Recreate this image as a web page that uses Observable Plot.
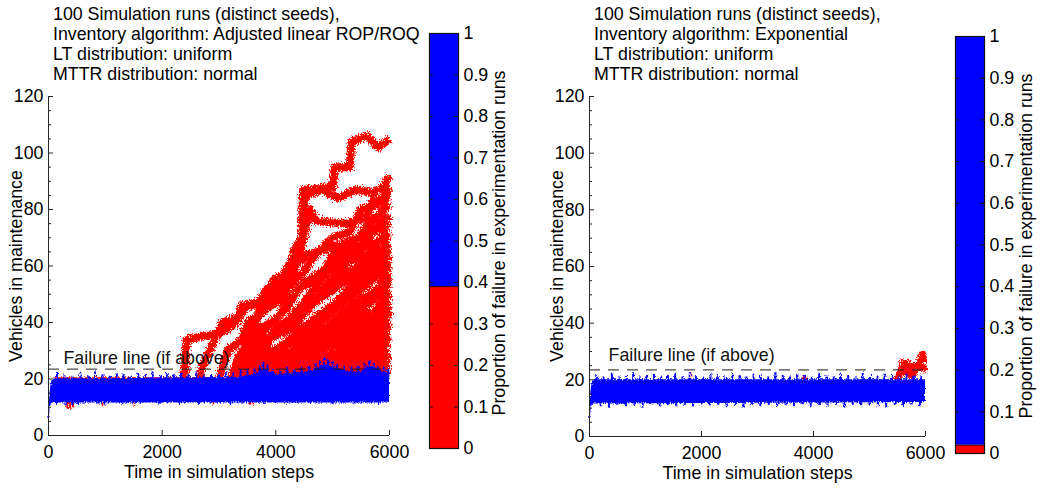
<!DOCTYPE html>
<html><head><meta charset="utf-8">
<script src="https://cdn.jsdelivr.net/npm/d3@7"></script>
<script src="https://cdn.jsdelivr.net/npm/@observablehq/plot@0.6"></script>
<style>
body{margin:0;background:#fff;}
#root{position:relative;width:1047px;height:488px;overflow:hidden;font-family:"Liberation Sans",Arial,Helvetica,sans-serif;color:#000;}
.title{position:absolute;font-size:17.8px;line-height:20.3px;white-space:pre;top:3.5px;}
.rot{position:absolute;font-size:17.8px;line-height:20px;white-space:nowrap;transform:translate(-50%,-50%) rotate(-90deg);}
.piece{position:absolute;}
</style></head><body><div id="root"></div>
<script>
// ---------------- DATA ----------------
const titles1 = ["100 Simulation runs (distinct seeds),", "Inventory algorithm: Adjusted linear ROP/ROQ", "LT distribution: uniform", "MTTR distribution: normal"];
const titles2 = ["100 Simulation runs (distinct seeds),", "Inventory algorithm: Exponential", "LT distribution: uniform", "MTTR distribution: normal"];
const xLabel = "Time in simulation steps";
const yLabel = "Vehicles in maintenance";
const cbLabel = "Proportion of failure in experimentation runs";
const failText = "Failure line (if above)";
const failLevel = 23.5;
const failTextPos1 = [264, 27.5];
const failTextPos2 = [340, 28.5];
const xTicks = [0, 2000, 4000, 6000];
const yTicks = [0, 20, 40, 60, 80, 100, 120];
const yMinor = [5, 10, 15, 25, 30, 35, 45, 50, 55, 65, 70, 75, 85, 90, 95, 105, 110, 115];
const cbTicks = [0, 0.1, 0.2, 0.3, 0.4, 0.5, 0.6, 0.7, 0.8, 0.9, 1];
const failShare = [0.39, 0.02];

// Blue (non-failing runs) envelope, panel 1
const band1T  = [0, 10, 25, 45, 70, 100, 3300, 3500, 3600, 3700, 3800, 3900, 4000, 4300, 4600, 4700, 4800, 4900, 5000, 5100, 5300, 5500, 5600, 5700, 5800, 5900, 6000];
const band1Hi = [1, 9, 15, 18, 19.5, 20, 20.5, 21, 21.5, 22.5, 23.5, 22.5, 21.5, 22, 22.5, 23.5, 24.5, 25, 24, 23.5, 22.5, 22.5, 24, 24.5, 23.5, 22.5, 22];
const band1Lo = [0, 4, 9, 11, 11.5, 11.5, 11.5, 11.5, 11.5, 11.5, 11.5, 11.5, 11.5, 11.5, 11.5, 11.5, 11.5, 11.5, 11.5, 11.5, 11.5, 11.5, 11.5, 11.5, 11.5, 11.5, 12];
const spike1T = [150, 280, 420, 560, 700, 820, 950, 1080, 1200, 1320, 1450, 1580, 1700, 1830, 1960, 2080, 2200, 2330, 2460, 2600, 2730, 2860, 3000, 3120, 3250, 3380, 3500, 3620, 3720, 3780, 3850, 3950, 4080, 4200, 4330, 4450, 4580, 4700, 4780, 4850, 4920, 5000, 5080, 5200, 5330, 5450, 5560, 5650, 5720, 5800, 5900, 5980];
const spike1V = [22, 21.5, 21, 22, 21, 22.5, 21.5, 21, 22, 21.5, 21, 22, 21.5, 22.5, 21, 22, 21.5, 22, 21.5, 22.5, 21.5, 22, 21.5, 22.5, 22, 23, 23.5, 24, 25, 26, 25, 23.5, 23, 24, 23.5, 24, 24.5, 25.5, 26.5, 27.5, 27, 26, 25, 24.5, 24, 24.5, 25.5, 26.5, 25.5, 24.5, 24, 23.5];
const dip1T = [130, 300, 420, 520, 700, 880, 1000, 1150, 1300, 1480, 1650, 1800, 1950, 2150, 2300, 2500, 2650, 2850, 3000, 3200, 3400, 3600, 3800, 4000, 4200, 4400, 4600, 4800, 5000, 5200, 5400, 5600, 5800, 5950];
const dip1V = [11, 10.5, 10.5, 11, 11.5, 11, 10.5, 11.5, 11, 11.5, 11, 11.5, 11, 11.5, 11, 11.5, 11, 11.5, 11.5, 11, 11.5, 11.5, 11, 11.5, 11, 11.5, 11, 11.5, 11, 11.5, 11, 11.5, 11, 11.5];
// red traces hidden in band, panel 1
const red1BandT  = [100, 2400, 6000];
const red1BandHi = [20.4, 20.4, 20.4];
const red1BandLo = [13, 13, 13];
const redDip1T = [330, 380, 430, 950, 1500, 2900, 3550, 3600];
const redDip1V = [9.5, 9.3, 9.8, 10.2, 10.5, 10.8, 10.8, 10.8];

// Failing runs (39 of 100), panel 1: [time, vehicles]
const runs1 = [
  [[2380,18],[2430,34],[2700,35],[3000,36],[3050,40],[3350,42],[3400,46],[3850,48],[3950,55],[4250,58],[4330,66],[4450,69],[4480,87],[5000,88],[5030,95],[5300,95],[5330,104],[5600,106],[5800,102],[6000,105]],
  [[2650,20],[2700,24],[2970,36],[3100,37],[3300,40],[3450,45],[3700,47],[3850,52],[4100,55],[4300,63],[4450,70],[4520,85],[4800,87],[5100,84],[5400,87],[5700,86],[5900,88],[6000,92]],
  [[3000,20],[3150,30],[3400,34],[3500,40],[3800,44],[3950,50],[4250,56],[4400,62],[4600,80],[4700,76],[5200,75],[5600,77],[5700,83],[5900,84],[6000,88]],
  [[3200,20],[3350,28],[3600,36],[3700,44],[4000,48],[4300,54],[4500,58],[4700,64],[5000,70],[5300,72],[5500,80],[5800,82],[6000,85]],
  [[3300,20],[3450,30],[3700,34],[3900,40],[4200,45],[4400,52],[4800,56],[5000,64],[5300,66],[5600,74],[5800,78],[6000,82]],
  [[3350,20],[3500,32],[3650,42],[3900,46],[4150,48],[4350,60],[4550,64],[4900,66],[5200,68],[5500,70],[5800,74],[6000,78]],
  [[3400,20],[3550,26],[3800,30],[4000,38],[4300,42],[4600,50],[4900,58],[5100,62],[5500,66],[5700,72],[6000,75]],
  [[3450,20],[3600,28],[3850,34],[4100,36],[4350,44],[4700,48],[5000,56],[5300,62],[5600,64],[5850,70],[6000,72]],
  [[3500,20],[3700,38],[3950,40],[4200,46],[4500,54],[4800,58],[5100,60],[5400,66],[5700,68],[6000,70]],
  [[3550,21],[3700,30],[3950,35],[4250,40],[4550,44],[4850,52],[5150,56],[5450,60],[5750,64],[6000,68]],
  [[3600,21],[3800,32],[4000,36],[4300,38],[4600,46],[4900,50],[5200,54],[5500,58],[5800,62],[6000,66]],
  [[3650,21],[3750,28],[4050,30],[4350,36],[4600,40],[4900,44],[5200,50],[5500,56],[5800,60],[6000,64]],
  [[3700,21],[3900,26],[4150,32],[4400,34],[4700,42],[5000,46],[5300,50],[5600,54],[5850,58],[6000,62]],
  [[3750,21],[3950,30],[4250,34],[4500,38],[4800,40],[5100,46],[5400,50],[5700,55],[6000,60]],
  [[3800,21],[4000,28],[4300,30],[4600,36],[4900,38],[5200,44],[5500,48],[5800,52],[6000,58]],
  [[3850,21],[4050,26],[4350,28],[4650,32],[4950,36],[5250,42],[5550,46],[5800,50],[6000,56]],
  [[3900,21],[4100,24],[4400,30],[4700,34],[5000,38],[5300,40],[5600,46],[5850,50],[6000,54]],
  [[3950,21],[4200,28],[4500,30],[4800,36],[5100,40],[5400,44],[5700,48],[6000,52]],
  [[4000,21],[4250,24],[4550,28],[4850,32],[5150,36],[5450,40],[5750,44],[6000,50]],
  [[4050,21],[4300,30],[4600,34],[4900,36],[5200,38],[5500,42],[5800,44],[6000,48]],
  [[4100,21],[4350,26],[4650,28],[4950,32],[5250,36],[5550,40],[5850,42],[6000,46]],
  [[4200,21],[4450,24],[4750,30],[5050,32],[5350,34],[5650,38],[5900,40],[6000,44]],
  [[4250,21],[4500,28],[4800,30],[5100,34],[5400,36],[5700,38],[6000,42]],
  [[4300,21],[4600,24],[4900,28],[5200,30],[5500,34],[5800,36],[6000,40]],
  [[4400,21],[4700,26],[5000,28],[5300,32],[5600,34],[6000,38]],
  [[4500,21],[4800,24],[5100,28],[5400,30],[5700,32],[6000,36]],
  [[4600,21],[4900,26],[5200,27],[5500,30],[5800,32],[6000,35]],
  [[4700,21],[5000,24],[5300,26],[5600,30],[6000,33]],
  [[4750,22],[5050,28],[5350,29],[5650,30],[6000,32]],
  [[4850,22],[5150,24],[5450,27],[5750,28],[6000,30]],
  [[4900,22],[5200,26],[5500,27],[5800,26],[6000,29]],
  [[5000,22],[5300,24],[5600,26],[6000,28]],
  [[5100,22],[5400,25],[5700,24],[6000,27]],
  [[5200,22],[5500,24],[5800,25],[6000,26]],
  [[5300,22],[5600,24],[6000,25]],
  [[3650,21],[3850,25],[4100,24],[4500,26],[5000,25],[5500,27],[6000,25]],
  [[5400,22],[5700,24],[6000,24]],
  [[4200,21],[4600,24],[5000,23],[5400,25],[6000,24]],
  [[5600,22],[6000,23]]
];

// Blue envelope, panel 2
const band2T  = [0, 10, 25, 45, 70, 100, 6000];
const band2Hi = [1, 10, 16, 18.5, 19.5, 20, 20];
const band2Lo = [0, 4, 9, 11, 11.5, 11.5, 12];
const spike2T = [120, 250, 400, 520, 650, 780, 900, 1020, 1150, 1280, 1400, 1530, 1660, 1790, 1900, 2030, 2160, 2290, 2420, 2550, 2680, 2800, 2930, 3060, 3190, 3320, 3450, 3580, 3710, 3840, 3970, 4100, 4230, 4360, 4490, 4620, 4750, 4880, 5010, 5140, 5270, 5400, 5530, 5660, 5790, 5920];
const spike2V = [21.5, 21, 22, 21, 21.5, 22.5, 21, 21.5, 22, 21, 21.5, 22, 21, 22.5, 21.5, 21, 22, 21.5, 21, 22, 21.5, 21, 22, 21.5, 21, 22.5, 21.5, 21, 22, 21.5, 21, 22, 21.5, 21, 22, 21.5, 21, 22.5, 21.5, 21, 22, 21.5, 21, 22, 21.5, 21];
const dip2T = [200, 350, 500, 650, 800, 950, 1100, 1250, 1400, 1550, 1700, 1850, 2000, 2150, 2300, 2450, 2600, 2750, 2900, 3050, 3200, 3350, 3500, 3650, 3800, 3950, 4100, 4250, 4400, 4550, 4700, 4850, 5000, 5150, 5300, 5450, 5600, 5750, 5900];
const dip2V = [10.5, 10, 11, 10.5, 11, 10, 11, 10.5, 11, 10.5, 11, 10.5, 11, 10.5, 11, 10.5, 11, 10, 11, 10.5, 11, 10.5, 11, 10.5, 11, 10.5, 11, 10.5, 11, 10, 11, 10.5, 11, 10.5, 10, 11, 10.5, 11, 10.5];
const redSpike2T = [1800, 3820, 3870];
const redSpike2V = [22.5, 21.5, 21.5];
// Failing runs (2 of 100), panel 2
const runs2 = [
  [[5500,20],[5550,23],[5600,26.5],[5650,24],[5700,26],[5750,23],[5800,25],[5850,24],[5900,27],[5950,29.5],[6000,26]],
  [[5450,20],[5550,22],[5650,23],[5750,21],[5850,24],[5950,25],[6000,23]]
];

// ---------------- DRAWING ----------------
const RED = "#ff0000", BLUE = "#0000ff", AX = "#262626";
const FONT = '"Liberation Sans", Arial, Helvetica, sans-serif';
const FS = "17.8px";
const root = document.getElementById("root");
const NS = "http://www.w3.org/2000/svg";

function place(node, left, top) {
  node.classList.add("piece");
  node.style.left = left + "px";
  node.style.top = top + "px";
  root.appendChild(node);
}
function zip(t, a, b) { return t.map((x, i) => ({t: x, a: a[i], b: b ? b[i] : undefined})); }

function addJitter(svg, id, scale, freq) {
  const defs = document.createElementNS(NS, "defs");
  const f = document.createElementNS(NS, "filter");
  f.setAttribute("id", id);
  f.setAttribute("x", "-5%"); f.setAttribute("y", "-5%");
  f.setAttribute("width", "110%"); f.setAttribute("height", "110%");
  const t = document.createElementNS(NS, "feTurbulence");
  t.setAttribute("type", "fractalNoise");
  t.setAttribute("baseFrequency", freq);
  t.setAttribute("numOctaves", "2");
  t.setAttribute("seed", "7");
  t.setAttribute("result", "noise");
  const d = document.createElementNS(NS, "feDisplacementMap");
  d.setAttribute("in", "SourceGraphic");
  d.setAttribute("in2", "noise");
  d.setAttribute("scale", scale);
  d.setAttribute("xChannelSelector", "R");
  d.setAttribute("yChannelSelector", "G");
  f.appendChild(t); f.appendChild(d); defs.appendChild(f);
  svg.insertBefore(defs, svg.firstChild);
}

function mainPlot(c) {
  const iw = c.W - c.mL - c.mR, ih = c.H - c.mT - c.mB;
  const marks = [];
  if (c.redBand) marks.push(Plot.areaY(zip(c.redBand[0], c.redBand[1], c.redBand[2]), {x: "t", y1: "b", y2: "a", fill: RED}));
  for (const run of c.runs) marks.push(Plot.line(run, {x: d => d[0], y: d => d[1], stroke: RED, strokeWidth: c.runWidth, strokeLinejoin: "round", strokeLinecap: "butt"}));
  if (c.redDips) marks.push(Plot.ruleX(zip(c.redDips[0], c.redDips[1]), {x: "t", y1: 12, y2: "a", stroke: RED, strokeWidth: 2}));
  if (c.redSpikes) marks.push(Plot.ruleX(zip(c.redSpikes[0], c.redSpikes[1]), {x: "t", y1: 19.5, y2: "a", stroke: RED, strokeWidth: 2}));
  marks.push(Plot.areaY(zip(c.band[0], c.band[1], c.band[2]), {x: "t", y1: "b", y2: "a", fill: BLUE}));
  marks.push(Plot.ruleX(zip(c.spikes[0], c.spikes[1]), {x: "t", y1: 19.5, y2: "a", stroke: BLUE, strokeWidth: 2}));
  marks.push(Plot.ruleX(zip(c.dips[0], c.dips[1]), {x: "t", y1: 12, y2: "a", stroke: BLUE, strokeWidth: 2}));
  // failure line
  marks.push(Plot.ruleY([failLevel], {x1: 0, x2: 6000, y: d => d, stroke: "#1a1a1a", strokeWidth: 1, strokeDasharray: "11,8"}));
  marks.push(Plot.text([failText], {x: c.failPos[0], y: c.failPos[1], text: d => d, textAnchor: "start", lineAnchor: "middle", fill: "#111"}));
  // axes
  marks.push(Plot.ruleY([0], {x1: 0, x2: 6000, stroke: AX}));
  marks.push(Plot.ruleX([0], {y1: 0, y2: 120, stroke: AX}));
  marks.push(Plot.tickX(xTicks, {x: d => d, insetTop: ih - 5, stroke: AX}));
  marks.push(Plot.tickY(yTicks, {y: d => d, insetRight: iw - 5, stroke: AX}));
  marks.push(Plot.tickY(yMinor, {y: d => d, insetRight: iw - 3, stroke: AX}));
  marks.push(Plot.text(xTicks, {x: d => d, frameAnchor: "bottom", dy: 16.4, lineAnchor: "middle", text: d => String(d), fill: "#000"}));
  marks.push(Plot.text(yTicks, {y: d => d, frameAnchor: "left", dx: -5, textAnchor: "end", lineAnchor: "middle", text: d => String(d), fill: "#000"}));
  marks.push(Plot.text([xLabel], {frameAnchor: "bottom", dy: 36.9, lineAnchor: "middle", text: d => d, fill: "#000"}));
  const svg = Plot.plot({
    width: c.W, height: c.H,
    marginLeft: c.mL, marginRight: c.mR, marginTop: c.mT, marginBottom: c.mB,
    x: {domain: [0, 6000], axis: null},
    y: {domain: [0, 120], axis: null},
    style: {fontFamily: FONT, fontSize: FS, overflow: "visible", background: "none"},
    marks
  });
  addJitter(svg, c.id + "L", 9, "0.9 0.6");
  addJitter(svg, c.id + "A", 4, "1.2 0.4");
  svg.querySelectorAll('g[aria-label="line"]').forEach(g => g.setAttribute("filter", `url(#${c.id}L)`));
  const fuzzy = svg.querySelectorAll('g[aria-label="area"], g[aria-label="rule"]');
  fuzzy.forEach((g, i) => { if (i < fuzzy.length - 3) g.setAttribute("filter", `url(#${c.id}A)`); });
  return svg;
}

function colorBar(c) {
  const iw = c.W - c.mL - c.mR;
  const segs = [{y1: 0, y2: c.share, f: RED}, {y1: c.share, y2: 1, f: BLUE}];
  return Plot.plot({
    width: c.W, height: c.H,
    marginLeft: c.mL, marginRight: c.mR, marginTop: c.mT, marginBottom: c.mB,
    x: {domain: [0, 1], axis: null},
    y: {domain: [0, 1], axis: null},
    style: {fontFamily: FONT, fontSize: FS, overflow: "visible", background: "none"},
    marks: [
      Plot.rect(segs, {x1: 0, x2: 1, y1: "y1", y2: "y2", fill: "f"}),
      Plot.ruleY([c.share], {stroke: "#000", strokeWidth: 0.8}),
      Plot.tickY(cbTicks, {y: d => d, insetRight: iw - 4, stroke: "#111"}),
      Plot.tickY(cbTicks, {y: d => d, insetLeft: iw - 4, stroke: "#111"}),
      Plot.frame({stroke: "#111", strokeWidth: 1.2}),
      Plot.text(cbTicks, {y: d => d, frameAnchor: "right", dx: 5, textAnchor: "start", lineAnchor: "middle", text: d => String(d), fill: "#000"})
    ]
  });
}

function titleBlock(lines, left) {
  const d = document.createElement("div");
  d.className = "title";
  d.style.left = left + "px";
  d.textContent = lines.join("\n");
  root.appendChild(d);
}
function rotLabel(text, cx, cy) {
  const d = document.createElement("div");
  d.className = "rot";
  d.style.left = cx + "px";
  d.style.top = cy + "px";
  d.textContent = text;
  root.appendChild(d);
}

titleBlock(titles1, 53);
titleBlock(titles2, 594);

place(mainPlot({id: "p1", W: 430, H: 408, mL: 48, mR: 41, mT: 16, mB: 53,
  runs: runs1, runWidth: 8,
  redBand: [red1BandT, red1BandHi, red1BandLo],
  redDips: [redDip1T, redDip1V],
  band: [band1T, band1Hi, band1Lo],
  spikes: [spike1T, spike1V], dips: [dip1T, dip1V],
  failPos: failTextPos1}), 0, 80);

place(mainPlot({id: "p2", W: 430, H: 408, mL: 48, mR: 46, mT: 16, mB: 52,
  runs: runs2, runWidth: 6,
  redSpikes: [redSpike2T, redSpike2V],
  band: [band2T, band2Hi, band2Lo],
  spikes: [spike2T, spike2V], dips: [dip2T, dip2V],
  failPos: failTextPos2}), 541, 80);

place(colorBar({W: 110, H: 435, mL: 10, mR: 71, mT: 10, mB: 10, share: failShare[0]}), 419, 23);
place(colorBar({W: 102, H: 437, mL: 10, mR: 63, mT: 10, mB: 10, share: failShare[1]}), 945, 26);

rotLabel(yLabel, 16, 266);
rotLabel(yLabel, 557, 266);
rotLabel(cbLabel, 499, 243);
rotLabel(cbLabel, 1026, 246);
</script></body></html>
